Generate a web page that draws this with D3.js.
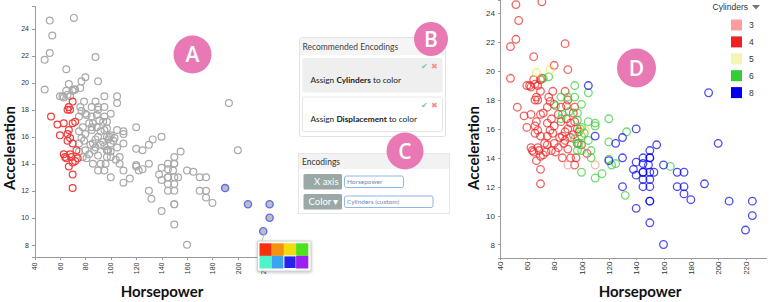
<!DOCTYPE html>
<meta charset="utf-8">
<title>Recommended encodings</title>
<style>
body { margin:0; background:#fff; }
svg { display:block; font-family:"Liberation Sans", Arial, sans-serif; }
.axis path, .axis line { stroke:#9a9a9a; shape-rendering:crispEdges; }
.axis text { fill:#333; }
.title { font-family:Lato, sans-serif; font-weight:bold; font-size:15px; fill:#111; }
.ui text { font-family:Lato, sans-serif; }
.badge text { font-family:"Open Sans", sans-serif; font-weight:600; font-size:21px; fill:#fff; }
</style>
<body>
<svg id="chart" width="772" height="302"></svg>
<script src="https://d3js.org/d3.v7.min.js"></script>
<script>
// cars: horsepower / acceleration per cylinder count
var hp4 = [52, 71, 54, 52, 48, 88, 65, 80, 90, 48,
           60, 62, 63, 65, 66, 70, 71, 68, 70, 79,
           88, 67, 68, 66, 76, 77, 53, 58, 63, 70,
           72, 75, 80, 85, 90, 89, 60, 66, 68, 75,
           77, 85, 90, 95, 89, 66, 70, 75, 79, 84,
           88, 94, 97, 87, 80, 75, 63, 68, 70, 70,
           67, 70, 72, 74, 86, 92, 96, 95, 104, 81,
           78, 65, 95, 94, 83, 78, 92, 80, 88, 92,
           73, 83, 90, 100, 98, 86, 97, 64, 69, 67];
var acc4 = [24.6, 24.8, 23.5, 22.2, 21.7, 21.9, 21.0, 20.4, 20.1, 19.5,
            19.0, 19.0, 18.9, 19.4, 19.1, 19.4, 19.5, 19.0, 18.6, 18.6,
            18.6, 18.2, 18.0, 18.0, 18.2, 17.9, 17.5, 16.9, 17.0, 17.0,
            17.1, 17.5, 17.7, 17.5, 18.0, 17.6, 16.1, 16.2, 15.9, 16.4,
            15.9, 16.5, 16.0, 16.5, 16.7, 15.7, 15.5, 15.5, 15.7, 15.4,
            15.2, 15.6, 15.0, 15.0, 15.0, 14.9, 14.7, 14.7, 12.2, 13.2,
            13.8, 14.1, 14.2, 14.4, 14.0, 14.0, 14.0, 13.5, 14.3, 14.4,
            14.5, 14.4, 17.5, 17.1, 17.0, 16.7, 16.4, 16.2, 15.8, 15.4,
            15.0, 14.7, 14.6, 14.9, 15.8, 15.5, 16.0, 14.5, 14.5, 16.5];
var hp6 = [72, 76, 95, 105, 85, 90, 95, 100, 81, 91,
           86, 85, 97, 97, 100, 105, 110, 110, 120, 133,
           120, 97, 102, 100, 95, 105, 98, 100, 107, 100,
           110, 115, 120, 122, 125, 132, 165, 97, 99, 107];
var acc6 = [19.5, 19.6, 19.0, 18.5, 18.2, 18.2, 18.2, 17.7, 17.6, 17.2,
            17.0, 16.7, 17.1, 16.6, 16.1, 16.5, 16.4, 16.2, 16.7, 15.8,
            15.1, 15.0, 15.7, 15.5, 15.3, 15.2, 15.0, 14.5, 14.0, 13.0,
            12.6, 12.9, 13.9, 13.5, 13.6, 11.4, 13.4, 14.5, 16.0, 14.5];
var hp8 = [105, 193, 200, 110, 125, 130, 140, 150, 155, 120,
           130, 130, 138, 140, 140, 140, 145, 145, 145, 145,
           145, 149, 150, 150, 150, 150, 150, 150, 153, 160,
           160, 170, 175, 170, 175, 175, 180, 190, 208, 225,
           225, 220, 150, 150, 145];
var acc8 = [19.0, 18.5, 15.0, 15.5, 15.0, 15.4, 16.0, 14.5, 14.9, 13.8,
            14.0, 12.0, 13.2, 12.8, 13.7, 10.5, 14.0, 13.6, 13.0, 12.5,
            12.0, 13.5, 14.0, 13.0, 12.5, 12.0, 11.0, 9.5, 13.0, 13.5,
            8.0, 13.0, 13.0, 12.0, 12.0, 11.5, 11.1, 12.2, 11.0, 11.0,
            10.0, 9.0, 14.0, 11.0, 13.0];
var hp5 = [67, 77, 103];
var acc5 = [19.9, 20.1, 15.9];
var hp3 = [90, 110];
var acc3 = [13.5, 13.5];

var xTicks = [40, 60, 80, 100, 120, 140, 160, 180, 200, 220];
var yTicks = [8, 10, 12, 14, 16, 18, 20, 22, 24];
var cylLabels = [3, 4, 5, 6, 8];
var cylColors = ["#ff9999", "#ee2222", "#e8e840", "#33cc33", "#0000ee"];
var swatchColors = ["#ff9c9c", "#ee2222", "#f4f4b6", "#33cc33", "#0000ee"];
var paletteColors = ["#f5300e", "#f5920f", "#f2db0f", "#4fe11c",
                     "#4ef3c9", "#3ba3f0", "#2424ef", "#9a1ff0"];

function rows(hp, acc, cyl) {
  return hp.map(function(h, i) { return {hp: h, acc: acc[i], cyl: cyl}; });
}
var cars = [].concat(rows(hp4, acc4, 4), rows(hp6, acc6, 6), rows(hp8, acc8, 8),
                     rows(hp5, acc5, 5), rows(hp3, acc3, 3));

var svg = d3.select("#chart");
var color = d3.scaleOrdinal().domain(cylLabels).range(cylColors);

function drawAxes(g, x, y, opt) {
  g.append("g")
    .attr("class", "axis")
    .attr("transform", "translate(0," + opt.bottom + ")")
    .call(d3.axisBottom(x).tickValues(xTicks).tickSize(opt.tick).tickSizeOuter(0))
    .selectAll("text")
      .attr("font-size", opt.font)
      .attr("transform", "rotate(-90)")
      .attr("text-anchor", "end")
      .attr("x", -opt.xpad)
      .attr("y", 0)
      .attr("dy", "0.32em");
  g.append("g")
    .attr("class", "axis")
    .attr("transform", "translate(" + opt.left + ",0)")
    .call(d3.axisLeft(y).tickValues(yTicks).tickSize(opt.tick).tickSizeOuter(opt.tick).tickPadding(opt.ypad))
    .selectAll("text").attr("font-size", opt.font);
  g.append("text").attr("class", "title")
    .attr("x", opt.titleX).attr("y", 297)
    .attr("text-anchor", "middle").text("Horsepower");
  g.append("text").attr("class", "title")
    .attr("transform", "translate(" + opt.titleY + ",148) rotate(-90)")
    .attr("text-anchor", "middle").text("Acceleration");
}

/* ---------- A: all grey, a hand-painted red group, selected blue group ---------- */
var xA = d3.scaleLinear().domain([40, 235]).range([34.5, 282.3]);
var yA = d3.scaleLinear().domain([7.13, 25.68]).range([256.5, 6]);
var gA = svg.append("g");
drawAxes(gA, xA, yA, {bottom: 256.5, left: 34.5, tick: 3, font: 7, xpad: 6, ypad: 2.5, titleX: 162, titleY: 14.5});

function isRed(d) { return d.cyl === 4 && d.hp < 75 && d.acc < 18.7; }
function isPicked(d) { return d.hp >= 190 && d.acc < 13; }

gA.append("g").selectAll("circle")
  .data(cars.filter(function(d) { return !isRed(d) && !isPicked(d); }))
  .enter().append("circle")
    .attr("cx", function(d) { return xA(d.hp); })
    .attr("cy", function(d) { return yA(d.acc); })
    .attr("r", 3.4)
    .attr("fill", "none")
    .attr("stroke", "#a9a9a9")
    .attr("stroke-width", 1.2);
gA.append("g").selectAll("circle")
  .data(cars.filter(isRed))
  .enter().append("circle")
    .attr("cx", function(d) { return xA(d.hp); })
    .attr("cy", function(d) { return yA(d.acc); })
    .attr("r", 3.4)
    .attr("fill", "none")
    .attr("stroke", "#f23a3a")
    .attr("stroke-width", 1.2);
gA.append("g").selectAll("circle")
  .data(cars.filter(isPicked))
  .enter().append("circle")
    .attr("cx", function(d) { return xA(d.hp); })
    .attr("cy", function(d) { return yA(d.acc); })
    .attr("r", 3.6)
    .attr("fill", "#bdbdbd")
    .attr("stroke", "#5b6cf2")
    .attr("stroke-width", 1.4);

// colour picker popup
var pop = svg.append("g");
pop.append("line").attr("x1", 264.5).attr("y1", 233).attr("x2", 262).attr("y2", 241)
  .attr("stroke", "#bbb");
pop.append("rect").attr("x", 257.5).attr("y", 241).attr("width", 53.5).attr("height", 30)
  .attr("fill", "#fff").attr("stroke", "#d4d4d4")
  .style("filter", "drop-shadow(0 1px 1.5px rgba(0,0,0,0.25))");
pop.selectAll(".sw").data(paletteColors).enter().append("rect")
  .attr("class", "sw")
  .attr("x", function(d, i) { return 259.5 + (i % 4) * 12.2; })
  .attr("y", function(d, i) { return 243.3 + Math.floor(i / 4) * 12.6; })
  .attr("width", 12.2).attr("height", 12.6)
  .attr("fill", function(d) { return d; })
  .attr("stroke", function(d, i) { return i === 6 ? "#fff" : "none"; })
  .attr("stroke-width", 1);

/* ---------- D: coloured by cylinders ---------- */
var xD = d3.scaleLinear().domain([40, 235]).range([499.5, 766]);
var yD = d3.scaleLinear().domain([7.1, 24.92]).range([257.5, 0]);
var gD = svg.append("g");
drawAxes(gD, xD, yD, {bottom: 257.5, left: 499.5, tick: 2, font: 8, xpad: 4, ypad: 2.5, titleX: 640, titleY: 478.5});

gD.append("g").selectAll("circle")
  .data(cars)
  .enter().append("circle")
    .attr("cx", function(d) { return xD(d.hp); })
    .attr("cy", function(d) { return yD(d.acc); })
    .attr("r", 3.8)
    .attr("fill", "none")
    .attr("stroke", function(d) { return color(d.cyl); })
    .attr("stroke-opacity", 0.7)
    .attr("stroke-width", 1.3);

var leg = gD.append("g").attr("font-size", 8.5).attr("fill", "#333");
leg.append("text").attr("x", 748).attr("y", 10).attr("text-anchor", "end").text("Cylinders");
leg.append("path").attr("d", "M752,5 L760,5 L756,9.5 Z").attr("fill", "#777");
var item = leg.selectAll(".it").data(cylLabels).enter().append("g")
  .attr("class", "it")
  .attr("transform", function(d, i) { return "translate(731," + (19.5 + i * 16.9) + ")"; });
item.append("rect").attr("width", 11).attr("height", 11)
  .attr("fill", function(d, i) { return swatchColors[i]; });
item.append("text").attr("x", 18).attr("y", 8.5).text(function(d) { return d; });

/* ---------- B: recommended encodings panel ---------- */
var ui = svg.append("g").attr("class", "ui");
ui.append("rect").attr("x", 299.5).attr("y", 37.5).attr("width", 146).attr("height", 99)
  .attr("fill", "#fff").attr("stroke", "#e2e2e2").attr("rx", 2);
ui.append("rect").attr("x", 300).attr("y", 38).attr("width", 145).attr("height", 17)
  .attr("fill", "#f5f5f5");
ui.append("text").attr("x", 302.5).attr("y", 49.5).attr("font-size", 8.5).attr("fill", "#444")
  .text("Recommended Encodings");

var recs = [{field: "Cylinders", y: 58, fill: "#efefef"}, {field: "Displacement", y: 97, fill: "#fff"}];
var card = ui.selectAll(".card").data(recs).enter().append("g").attr("class", "card")
  .attr("transform", function(d) { return "translate(302.5," + d.y + ")"; });
card.append("rect").attr("width", 140).attr("height", 34.5).attr("rx", 2)
  .attr("fill", function(d) { return d.fill; })
  .attr("stroke", function(d) { return d.fill === "#fff" ? "#e6e6e6" : "none"; });
card.append("text").attr("x", 118).attr("y", 10.5).attr("font-size", 8).attr("fill", "#67cdb0").text("✔");
card.append("text").attr("x", 128.5).attr("y", 10.5).attr("font-size", 8).attr("fill", "#f39090").text("✖");
var line = card.append("text").attr("x", 8).attr("y", 25).attr("font-size", 8.3).attr("fill", "#222");
line.append("tspan").text("Assign ");
line.append("tspan").attr("font-weight", "bold").text(function(d) { return d.field; });
line.append("tspan").text(" to color");

/* ---------- C: encodings shelf ---------- */
ui.append("rect").attr("x", 298.5).attr("y", 153.5).attr("width", 151).attr("height", 60)
  .attr("fill", "#fff").attr("stroke", "#e6e6e6");
ui.append("rect").attr("x", 299).attr("y", 154).attr("width", 150).attr("height", 15)
  .attr("fill", "#f2f2f2");
ui.append("text").attr("x", 302).attr("y", 165).attr("font-size", 8.5).attr("fill", "#333").text("Encodings");

var shelves = [{chan: "X axis", field: "Horsepower", y: 174, w: 59},
               {chan: "Color \u25BE", field: "Cylinders (custom)", y: 194, w: 88.5}];
var sh = ui.selectAll(".shelf").data(shelves).enter().append("g").attr("class", "shelf")
  .attr("transform", function(d) { return "translate(0," + d.y + ")"; });
sh.append("rect").attr("x", 303.5).attr("width", 38.5).attr("height", 15.5).attr("rx", 1.5)
  .attr("fill", "#9aa8a6");
sh.append("text").attr("x", 338.5).attr("y", 11.3).attr("text-anchor", "end")
  .attr("font-size", 9.5).attr("fill", "#fff").text(function(d) { return d.chan; });
sh.append("rect").attr("x", 344.5).attr("y", 2).attr("width", function(d) { return d.w; })
  .attr("height", 11.5).attr("rx", 2).attr("fill", "#fff").attr("stroke", "#8fb8e6");
sh.append("text").attr("x", 347).attr("y", 10.3).attr("font-size", 6.5).attr("fill", "#6a8cb8")
  .text(function(d) { return d.field; });

/* ---------- letter badges ---------- */
var badges = [{t: "A", x: 192.5, y: 54.5, r: 19}, {t: "B", x: 431, y: 39, r: 17},
              {t: "C", x: 405, y: 151, r: 18.5}, {t: "D", x: 636.5, y: 68, r: 19.5}];
var bd = svg.append("g").attr("class", "badge").selectAll("g").data(badges).enter().append("g")
  .attr("transform", function(d) { return "translate(" + d.x + "," + d.y + ")"; });
bd.append("circle").attr("r", function(d) { return d.r; }).attr("fill", "#e879b4");
bd.append("text").attr("text-anchor", "middle").attr("dy", "0.36em").text(function(d) { return d.t; });
</script>
</body>
